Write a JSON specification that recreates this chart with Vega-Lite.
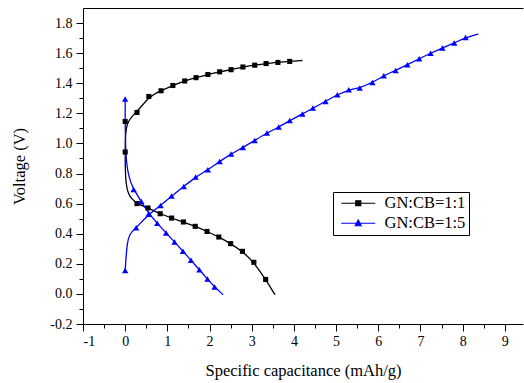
{
  "$schema": "https://vega.github.io/schema/vega-lite/v6.json",
  "width": 440,
  "height": 316,
  "autosize": {"type": "none"},
  "padding": {"left": 83, "top": 8, "right": 1, "bottom": 59},
  "background": "white",
  "config": {
    "view": {"stroke": null},
    "font": "Liberation Serif",
    "style": {"guide-label": {"font": "Liberation Serif"}, "guide-title": {"font": "Liberation Serif"}},
    "axis": {"labelFont": "Liberation Serif", "titleFont": "Liberation Serif", "labelColor": "black", "titleColor": "black", "domainColor": "black", "tickColor": "black", "grid": false, "titleFontWeight": "normal", "domainWidth": 1, "tickWidth": 1},
    "legend": {"labelFont": "Liberation Serif"}
  },
  "data": {"values": [
    {"s":"GN:CB=1:1","b":"a","x":4.2,"y":1.551,"m":false},
    {"s":"GN:CB=1:1","b":"a","x":3.9,"y":1.545,"m":true},
    {"s":"GN:CB=1:1","b":"a","x":3.62,"y":1.538,"m":true},
    {"s":"GN:CB=1:1","b":"a","x":3.34,"y":1.531,"m":true},
    {"s":"GN:CB=1:1","b":"a","x":3.07,"y":1.52,"m":true},
    {"s":"GN:CB=1:1","b":"a","x":2.79,"y":1.508,"m":true},
    {"s":"GN:CB=1:1","b":"a","x":2.51,"y":1.49,"m":true},
    {"s":"GN:CB=1:1","b":"a","x":2.24,"y":1.476,"m":true},
    {"s":"GN:CB=1:1","b":"a","x":1.96,"y":1.458,"m":true},
    {"s":"GN:CB=1:1","b":"a","x":1.68,"y":1.437,"m":true},
    {"s":"GN:CB=1:1","b":"a","x":1.41,"y":1.415,"m":true},
    {"s":"GN:CB=1:1","b":"a","x":1.13,"y":1.385,"m":true},
    {"s":"GN:CB=1:1","b":"a","x":0.85,"y":1.35,"m":true},
    {"s":"GN:CB=1:1","b":"a","x":0.56,"y":1.312,"m":true},
    {"s":"GN:CB=1:1","b":"a","x":0.28,"y":1.206,"m":true},
    {"s":"GN:CB=1:1","b":"a","x":0.0,"y":1.146,"m":true},
    {"s":"GN:CB=1:1","b":"a","x":0.0,"y":0.943,"m":true},
    {"s":"GN:CB=1:1","b":"a","x":0.0,"y":0.78,"m":false},
    {"s":"GN:CB=1:1","b":"a","x":0.06,"y":0.65,"m":false},
    {"s":"GN:CB=1:1","b":"a","x":0.28,"y":0.6,"m":true},
    {"s":"GN:CB=1:1","b":"a","x":0.54,"y":0.571,"m":true},
    {"s":"GN:CB=1:1","b":"a","x":0.83,"y":0.533,"m":true},
    {"s":"GN:CB=1:1","b":"a","x":1.1,"y":0.504,"m":true},
    {"s":"GN:CB=1:1","b":"a","x":1.38,"y":0.478,"m":true},
    {"s":"GN:CB=1:1","b":"a","x":1.66,"y":0.449,"m":true},
    {"s":"GN:CB=1:1","b":"a","x":1.94,"y":0.415,"m":true},
    {"s":"GN:CB=1:1","b":"a","x":2.22,"y":0.378,"m":true},
    {"s":"GN:CB=1:1","b":"a","x":2.5,"y":0.334,"m":true},
    {"s":"GN:CB=1:1","b":"a","x":2.78,"y":0.283,"m":true},
    {"s":"GN:CB=1:1","b":"a","x":3.05,"y":0.21,"m":true},
    {"s":"GN:CB=1:1","b":"a","x":3.33,"y":0.096,"m":true},
    {"s":"GN:CB=1:1","b":"a","x":3.55,"y":-0.005,"m":false},
    {"s":"GN:CB=1:5","b":"d","x":0.0,"y":1.295,"m":true},
    {"s":"GN:CB=1:5","b":"d","x":0.0,"y":0.82,"m":false},
    {"s":"GN:CB=1:5","b":"d","x":0.2,"y":0.693,"m":true},
    {"s":"GN:CB=1:5","b":"d","x":0.38,"y":0.615,"m":true},
    {"s":"GN:CB=1:5","b":"d","x":0.56,"y":0.533,"m":true},
    {"s":"GN:CB=1:5","b":"d","x":0.76,"y":0.47,"m":true},
    {"s":"GN:CB=1:5","b":"d","x":0.97,"y":0.405,"m":true},
    {"s":"GN:CB=1:5","b":"d","x":1.17,"y":0.345,"m":true},
    {"s":"GN:CB=1:5","b":"d","x":1.37,"y":0.283,"m":true},
    {"s":"GN:CB=1:5","b":"d","x":1.56,"y":0.223,"m":true},
    {"s":"GN:CB=1:5","b":"d","x":1.76,"y":0.16,"m":true},
    {"s":"GN:CB=1:5","b":"d","x":1.95,"y":0.099,"m":true},
    {"s":"GN:CB=1:5","b":"d","x":2.12,"y":0.046,"m":true},
    {"s":"GN:CB=1:5","b":"d","x":2.32,"y":-0.005,"m":false},
    {"s":"GN:CB=1:5","b":"c","x":0.0,"y":0.156,"m":true},
    {"s":"GN:CB=1:5","b":"c","x":0.04,"y":0.33,"m":false},
    {"s":"GN:CB=1:5","b":"c","x":0.1,"y":0.4,"m":false},
    {"s":"GN:CB=1:5","b":"c","x":0.26,"y":0.44,"m":true},
    {"s":"GN:CB=1:5","b":"c","x":0.56,"y":0.53,"m":true},
    {"s":"GN:CB=1:5","b":"c","x":0.84,"y":0.588,"m":true},
    {"s":"GN:CB=1:5","b":"c","x":1.1,"y":0.65,"m":true},
    {"s":"GN:CB=1:5","b":"c","x":1.39,"y":0.714,"m":true},
    {"s":"GN:CB=1:5","b":"c","x":1.67,"y":0.777,"m":true},
    {"s":"GN:CB=1:5","b":"c","x":1.96,"y":0.825,"m":true},
    {"s":"GN:CB=1:5","b":"c","x":2.24,"y":0.88,"m":true},
    {"s":"GN:CB=1:5","b":"c","x":2.51,"y":0.93,"m":true},
    {"s":"GN:CB=1:5","b":"c","x":2.79,"y":0.973,"m":true},
    {"s":"GN:CB=1:5","b":"c","x":3.07,"y":1.02,"m":true},
    {"s":"GN:CB=1:5","b":"c","x":3.36,"y":1.069,"m":true},
    {"s":"GN:CB=1:5","b":"c","x":3.64,"y":1.109,"m":true},
    {"s":"GN:CB=1:5","b":"c","x":3.9,"y":1.152,"m":true},
    {"s":"GN:CB=1:5","b":"c","x":4.2,"y":1.195,"m":true},
    {"s":"GN:CB=1:5","b":"c","x":4.45,"y":1.235,"m":true},
    {"s":"GN:CB=1:5","b":"c","x":4.75,"y":1.279,"m":true},
    {"s":"GN:CB=1:5","b":"c","x":5.03,"y":1.324,"m":true},
    {"s":"GN:CB=1:5","b":"c","x":5.3,"y":1.357,"m":true},
    {"s":"GN:CB=1:5","b":"c","x":5.56,"y":1.368,"m":true},
    {"s":"GN:CB=1:5","b":"c","x":5.86,"y":1.405,"m":true},
    {"s":"GN:CB=1:5","b":"c","x":6.13,"y":1.45,"m":true},
    {"s":"GN:CB=1:5","b":"c","x":6.41,"y":1.485,"m":true},
    {"s":"GN:CB=1:5","b":"c","x":6.69,"y":1.523,"m":true},
    {"s":"GN:CB=1:5","b":"c","x":6.97,"y":1.563,"m":true},
    {"s":"GN:CB=1:5","b":"c","x":7.24,"y":1.6,"m":true},
    {"s":"GN:CB=1:5","b":"c","x":7.52,"y":1.634,"m":true},
    {"s":"GN:CB=1:5","b":"c","x":7.8,"y":1.667,"m":true},
    {"s":"GN:CB=1:5","b":"c","x":8.07,"y":1.704,"m":true},
    {"s":"GN:CB=1:5","b":"c","x":8.37,"y":1.727,"m":false}
  ]},
  "resolve": {"axis": {"x": "independent", "y": "independent"}},
  "layer": [
    {
      "mark": {"type": "line", "interpolate": "basis", "strokeWidth": 1.3, "clip": true},
      "encoding": {
        "x": {"field": "x", "type": "quantitative", "scale": {"domain": [-1, 9.43], "nice": false, "zero": false},
              "axis": {"orient": "bottom", "values": [-0.5,0.5,1.5,2.5,3.5,4.5,5.5,6.5,7.5,8.5], "labels": false, "title": null, "tickSize": 4, "domain": false}},
        "y": {"field": "y", "type": "quantitative", "scale": {"domain": [-0.2, 1.9], "nice": false, "zero": false},
              "axis": {"orient": "left", "values": [-0.1,0.1,0.3,0.5,0.7,0.9,1.1,1.3,1.5,1.7], "labels": false, "title": null, "tickSize": 4, "domain": false}},
        "color": {"field": "s", "type": "nominal", "scale": {"domain": ["GN:CB=1:1","GN:CB=1:5"], "range": ["black","blue"]}},
        "detail": {"field": "b"},
        "order": {"value": null}
      }
    },
    {
      "transform": [{"filter": "datum.m && datum.s === 'GN:CB=1:1'"}],
      "mark": {"type": "point", "shape": "square", "filled": true, "opacity": 1, "size": 26, "color": "black", "clip": true},
      "encoding": {
        "x": {"field": "x", "type": "quantitative",
              "axis": {"orient": "bottom", "values": [-1,0,1,2,3,4,5,6,7,8,9], "format": "d", "labelExpr": "replace(datum.label, '−', '-')", "title": "Specific capacitance (mAh/g)", "tickSize": 7, "labelFont": "Liberation Serif", "titleFont": "Liberation Serif", "labelFontSize": 14, "titleFontSize": 16.5, "labelPadding": 3, "titlePadding": 14}},
        "y": {"field": "y", "type": "quantitative",
              "axis": {"orient": "left", "values": [-0.2,0,0.2,0.4,0.6,0.8,1.0,1.2,1.4,1.6,1.8], "format": ".1f", "labelExpr": "replace(datum.label, '−', '-')", "title": "Voltage (V)", "tickSize": 7, "labelFont": "Liberation Serif", "titleFont": "Liberation Serif", "labelFontSize": 14, "titleFontSize": 16.5, "labelPadding": 4, "titlePadding": 22}}
      }
    },
    {
      "transform": [{"filter": "datum.m && datum.s === 'GN:CB=1:5'"}],
      "mark": {"type": "point", "shape": "triangle-up", "filled": true, "opacity": 1, "size": 40, "color": "blue", "clip": true},
      "encoding": {
        "x": {"field": "x", "type": "quantitative", "axis": null},
        "y": {"field": "y", "type": "quantitative", "axis": null}
      }
    },
    {
      "transform": [{"filter": "false"}],
      "mark": {"type": "point", "filled": true, "opacity": 1},
      "encoding": {
        "x": {"field": "x", "type": "quantitative", "axis": {"orient": "top", "labels": false, "ticks": false, "title": null}},
        "y": {"field": "y", "type": "quantitative", "axis": null},
        "color": {"field": "s", "type": "nominal",
                  "legend": {"title": null, "orient": "none", "legendX": 250, "legendY": 184, "strokeColor": "black", "fillColor": "white", "padding": 3, "rowPadding": 3, "symbolSize": 144, "symbolStrokeWidth": 1.2, "labelFontSize": 16.5, "labelOffset": 32, "labelColor": "black"}},
        "stroke": {"field": "s", "type": "nominal", "scale": {"domain": ["GN:CB=1:1","GN:CB=1:5"], "range": ["black","blue"]}},
        "shape": {"field": "s", "type": "nominal", "scale": {"domain": ["GN:CB=1:1","GN:CB=1:5"], "range": ["M-0.5,0H5.17M1.92,-0.42H2.75V0.42H1.92Z", "M-0.5,0H5.17M2.33,-0.55L2.83,0.42H1.83Z"]}}
      }
    }
  ]
}
